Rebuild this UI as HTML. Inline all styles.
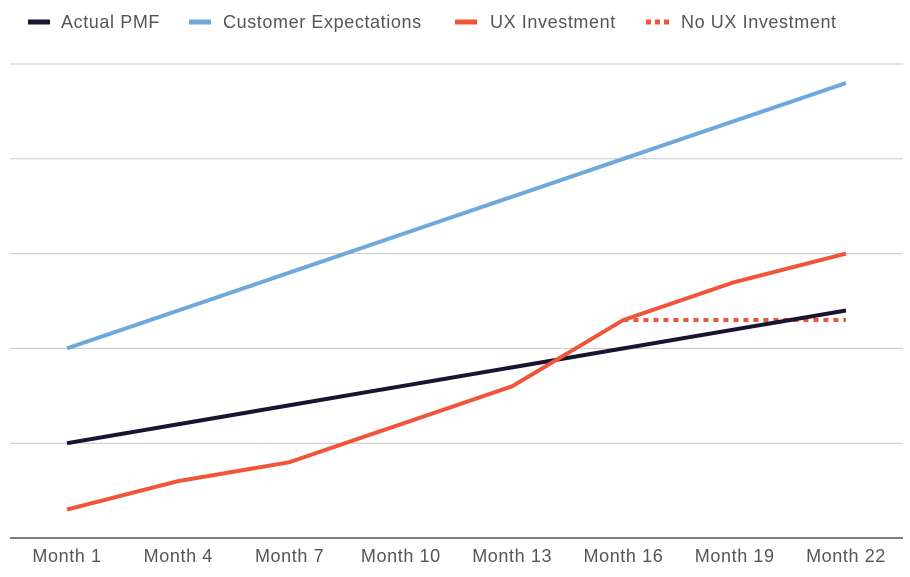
<!DOCTYPE html>
<html><head><meta charset="utf-8"><style>
body{margin:0;background:#fff;font-family:"Liberation Sans",sans-serif}
svg text{font-family:"Liberation Sans",sans-serif;fill:#555}
</style></head><body>
<svg id="chart" width="910" height="572" xmlns="http://www.w3.org/2000/svg">
<g id="legend">
 <g><line x1="28" y1="22" x2="50" y2="22" stroke="#1a1433" stroke-width="5"/><text x="61" y="28" font-size="18" letter-spacing="0.6">Actual PMF</text></g>
 <g><line x1="189" y1="22" x2="211" y2="22" stroke="#6fa8dc" stroke-width="5"/><text x="223" y="28" font-size="18" letter-spacing="0.6">Customer Expectations</text></g>
 <g><line x1="455" y1="22" x2="477" y2="22" stroke="#f0553a" stroke-width="5"/><text x="490" y="28" font-size="18" letter-spacing="0.6">UX Investment</text></g>
 <g><line x1="646" y1="22" x2="670" y2="22" stroke="#f0553a" stroke-width="5" stroke-dasharray="5,4"/><text x="681" y="28" font-size="18" letter-spacing="0.6">No UX Investment</text></g>
</g>
<g id="grid"></g>
<g id="xlabels"></g>
<g id="series"></g>
</svg>
<script>
const categories=["Month 1","Month 4","Month 7","Month 10","Month 13","Month 16","Month 19","Month 22"];
const actualPMF=[1.0,1.2,1.4,1.6,1.8,2.0,2.2,2.4];
const customerExpectations=[2.0,2.4,2.8,3.2,3.6,4.0,4.4,4.8];
const uxInvestment=[0.3,0.6,0.8,1.2,1.6,2.3,2.7,3.0];
const noUxInvestment=[null,null,null,null,null,2.3,2.3,2.3];
const gridValues=[0,1,2,3,4,5];
const NS="http://www.w3.org/2000/svg";
const x=i=>67+i*(846-67)/(categories.length-1);
const y=v=>538-v*94.8;
function mk(tag,attrs,parent){const e=document.createElementNS(NS,tag);for(const k in attrs)e.setAttribute(k,attrs[k]);parent.appendChild(e);return e;}
const grid=document.getElementById('grid');
gridValues.forEach(v=>{
 const l=mk('line',{x1:10,x2:903,y1:y(v),y2:y(v),stroke:v===0?'#333':'#c8c8c8','stroke-width':v===0?1.3:1},grid);
 
 
});
const xl=document.getElementById('xlabels');
categories.forEach((c,i)=>{
 const t=mk('text',{x:x(i),y:562,'text-anchor':'middle','font-size':18,'letter-spacing':0.6},xl);t.textContent=c;
 
 
});
const sg=document.getElementById('series');
function line(vals,color,name,dash){
 const pts=vals.map((v,i)=>v==null?null:x(i)+','+y(v)).filter(p=>p);
 const a={points:pts.join(' '),fill:'none',stroke:color,'stroke-width':4,'stroke-linejoin':'round'};
 if(dash)a['stroke-dasharray']=dash;
 const p=mk('polyline',a,sg);
 
 
}
line(customerExpectations,'#6fa8dc','customer-expectations-line');
line(noUxInvestment,'#f0553a','no-ux-investment-line','5,5');
line(actualPMF,'#1a1433','actual-pmf-line');
line(uxInvestment,'#f0553a','ux-investment-line');
</script>
</body></html>
